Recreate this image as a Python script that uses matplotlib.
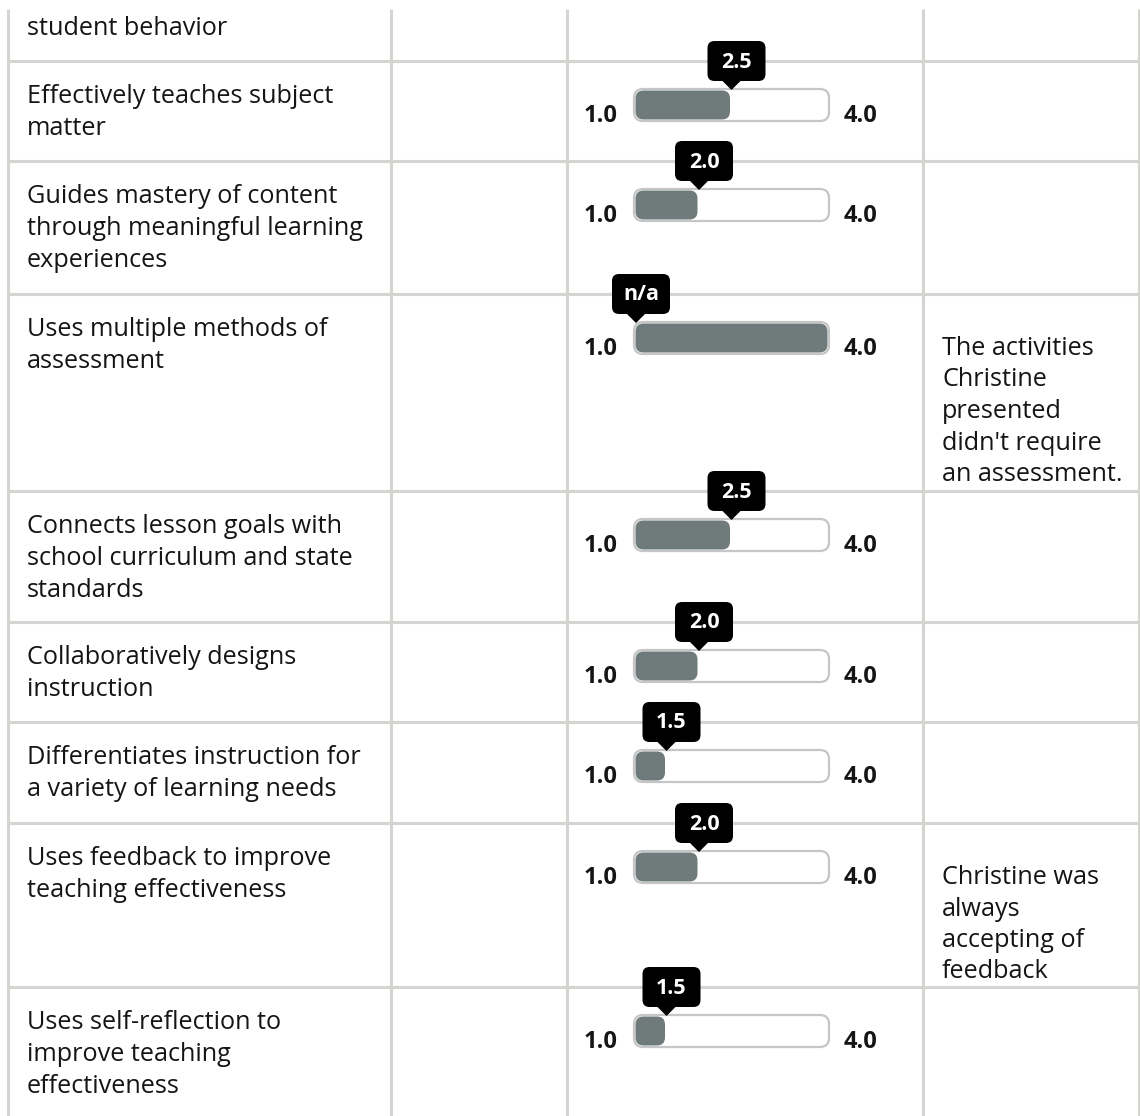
import matplotlib.pyplot as plt
from matplotlib.patches import FancyBboxPatch, Polygon

# table content (first row is the tail of a criterion cut off at the top)
criteria = [
    "student behavior",
    "Effectively teaches subject\nmatter",
    "Guides mastery of content\nthrough meaningful learning\nexperiences",
    "Uses multiple methods of\nassessment",
    "Connects lesson goals with\nschool curriculum and state\nstandards",
    "Collaboratively designs\ninstruction",
    "Differentiates instruction for\na variety of learning needs",
    "Uses feedback to improve\nteaching effectiveness",
    "Uses self-reflection to\nimprove teaching\neffectiveness",
]
has_slider = [False, True, True, True, True, True, True, True, True]
scores = [None, 2.5, 2.0, None, 2.5, 2.0, 1.5, 2.0, 1.5]
score_labels = ["", "2.5", "2.0", "n/a", "2.5", "2.0", "1.5", "2.0", "1.5"]
comments = [
    "", "", "",
    "The activities\nChristine\npresented\ndidn't require\nan assessment.",
    "", "", "",
    "Christine was\nalways\naccepting of\nfeedback",
    "",
]
scale_min, scale_max = 1.0, 4.0
scale_labels = ["1.0", "4.0"]

# layout in pixels
W, H = 1140, 1116
row_tops = [-7, 61, 161, 294, 491, 622, 722, 823, 987]
col_x = [8, 391, 567, 923, 1139]
track_x0, track_x1 = 634, 829
grid_col = "#D4D4D0"
fill_col = "#6F7B7A"
text_col = "#151515"
FONT = "Open Sans"

fig = plt.figure(figsize=(W / 100, H / 100), dpi=100)
ax = fig.add_axes([0, 0, 1, 1])
ax.set_xlim(0, W)
ax.set_ylim(H, 0)
ax.axis("off")

# grid
ax.hlines(row_tops[1:], col_x[0], col_x[-1], color=grid_col, lw=2.2, zorder=1)
ax.vlines(col_x, 9, H, color=grid_col, lw=2.2, zorder=1)

for i, top in enumerate(row_tops):
    # criterion text
    for j, line in enumerate(criteria[i].split("\n")):
        ax.text(27, top + 42 + j * 32, line, fontsize=18.2, family=FONT,
                color=text_col, va="baseline", ha="left")
    # comments
    if comments[i]:
        for j, line in enumerate(comments[i].split("\n")):
            ax.text(942, top + 61 + j * 31.5, line, fontsize=18.2, family=FONT,
                    color=text_col, va="baseline", ha="left")

    if not has_slider[i]:
        continue

    # slider axes gives the value -> pixel scale
    sax = fig.add_axes([track_x0 / W, 1 - (top + 60) / H,
                        (track_x1 - track_x0) / W, 32 / H])
    sax.set_xlim(scale_min, scale_max)
    sax.axis("off")
    to_px = sax.transData + ax.transData.inverted()
    val = scores[i] if scores[i] is not None else scale_max
    px = to_px.transform((val, 0))[0]
    x_lo = to_px.transform((scale_min, 0))[0]
    x_hi = to_px.transform((scale_max, 0))[0]
    tip = px if scores[i] is not None else x_lo + 2

    # track + fill
    ax.add_patch(FancyBboxPatch((x_lo, top + 28), x_hi - x_lo, 32,
                                boxstyle="round,pad=0,rounding_size=9",
                                fc="white", ec="#C6C6C6", lw=1.6, zorder=2))
    ax.add_patch(FancyBboxPatch((x_lo + 1.5, top + 29.5), px - x_lo - 3, 29,
                                boxstyle="round,pad=0,rounding_size=8",
                                fc=fill_col, ec="none", zorder=3))

    # end labels
    ax.text(601, top + 61, scale_labels[0], fontsize=17, family=FONT,
            weight="bold", color=text_col, ha="center", va="baseline")
    ax.text(861, top + 61, scale_labels[1], fontsize=17, family=FONT,
            weight="bold", color=text_col, ha="center", va="baseline")

    # tooltip
    cx = tip + 5
    ax.add_patch(FancyBboxPatch((cx - 29, top - 20), 58, 40,
                                boxstyle="round,pad=0,rounding_size=7",
                                fc="black", ec="none", zorder=5))
    ax.add_patch(Polygon([(tip - 10, top + 19), (tip + 10, top + 19),
                          (tip, top + 29)], closed=True, fc="black",
                         ec="none", zorder=5))
    ax.text(cx, top + 1, score_labels[i], fontsize=15.5, family=FONT,
            weight="bold", color="white", ha="center", va="center", zorder=6)

fig.savefig("out.png", dpi=100)
